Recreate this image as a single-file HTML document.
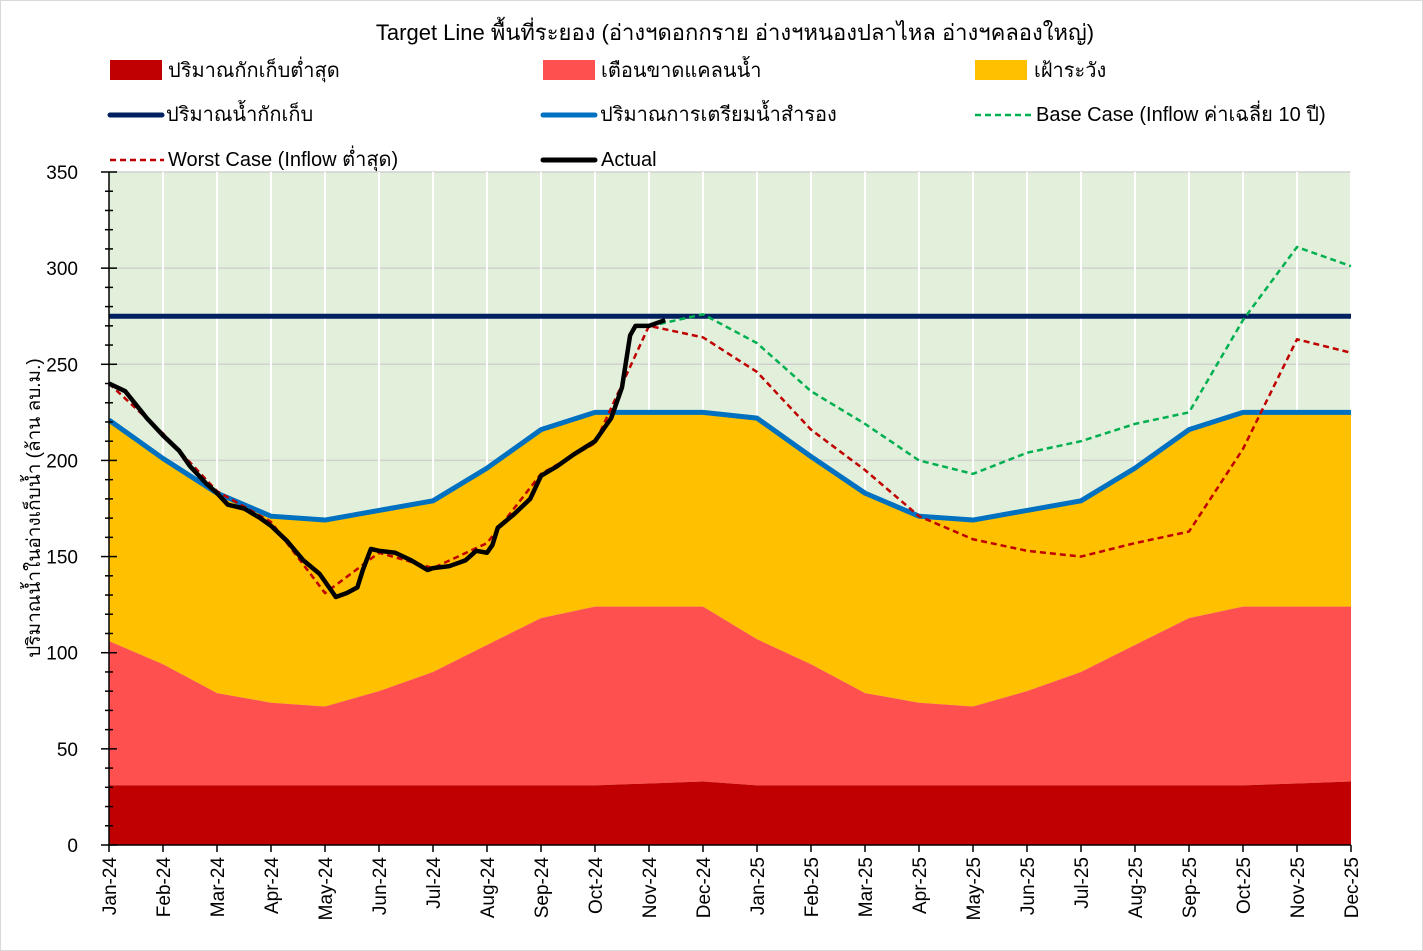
<!DOCTYPE html>
<html><head><meta charset="utf-8"><style>
body{margin:0;background:#fff}
svg{display:block;font-family:"Liberation Sans","Noto Sans CJK SC",sans-serif}
</style></head><body>
<svg id="c" width="1423" height="951" viewBox="0 0 1423 951">
<rect x="0.5" y="0.5" width="1422" height="950" fill="#fff" stroke="#d9d9d9"/>
<text x="735" y="40" font-size="22" text-anchor="middle" fill="#000">Target Line พื้นที่ระยอง (อ่างฯดอกกราย อ่างฯหนองปลาไหล อ่างฯคลองใหญ่)</text>
<g id="legend" font-size="20">
<g><rect x="110" y="60" width="52" height="20" fill="#c00000"/><text x="168" y="77">ปริมาณกักเก็บต่ำสุด</text></g>
<g><rect x="543" y="60" width="52" height="20" fill="#ff5050"/><text x="601" y="77">เตือนขาดแคลนน้ำ</text></g>
<g><rect x="975" y="60" width="52" height="20" fill="#ffc000"/><text x="1034" y="77">เฝ้าระวัง</text></g>
<g><line x1="110" y1="115" x2="162" y2="115" stroke="#002060" stroke-width="5" stroke-linecap="round"/><text x="166" y="121">ปริมาณน้ำกักเก็บ</text></g>
<g><line x1="543" y1="115" x2="595" y2="115" stroke="#0070c0" stroke-width="5" stroke-linecap="round"/><text x="600" y="121">ปริมาณการเตรียมน้ำสำรอง</text></g>
<g><line x1="975" y1="115" x2="1031" y2="115" stroke="#00b050" stroke-width="2.5" stroke-dasharray="6,4"/><text x="1036" y="121">Base Case (Inflow ค่าเฉลี่ย 10 ปี)</text></g>
<g><line x1="110" y1="160" x2="164" y2="160" stroke="#c00000" stroke-width="2.5" stroke-dasharray="6,4"/><text x="168" y="166">Worst Case (Inflow ต่ำสุด)</text></g>
<g><line x1="543" y1="160" x2="595" y2="160" stroke="#000" stroke-width="5" stroke-linecap="round"/><text x="601" y="166">Actual</text></g>
</g>
<g id="plot"></g>
</svg>
<script>
const months=["Jan-24","Feb-24","Mar-24","Apr-24","May-24","Jun-24","Jul-24","Aug-24","Sep-24","Oct-24","Nov-24","Dec-24","Jan-25","Feb-25","Mar-25","Apr-25","May-25","Jun-25","Jul-25","Aug-25","Sep-25","Oct-25","Nov-25","Dec-25"];
const yTicks=[0,50,100,150,200,250,300,350];
const minStorage=[31,31,31,31,31,31,31,31,31,31,32,33,31,31,31,31,31,31,31,31,31,31,32,33];
const warnTop=[106,94,79,74,72,80,90,104,118,124,124,124,107,94,79,74,72,80,90,104,118,124,124,124];
const reserve=[221,201,183,171,169,174,179,196,216,225,225,225,222,202,183,171,169,174,179,196,216,225,225,225];
const capacity=[275,275,275,275,275,275,275,275,275,275,275,275,275,275,275,275,275,275,275,275,275,275,275,275];
const baseIdx=[10.2,11,12,13,14,15,16,17,18,19,20,21,22,23];
const baseCase=[271,276,261,236,219,200,193,204,210,219,225,273,311,301];
const worstCase=[240,214,184,168,131,152,144,157,193,209,270,264,246,216,195,171,159,153,150,157,163,206,263,256];
const actualIdx=[0,0.3,0.5,0.7,1,1.3,1.5,1.8,2,2.2,2.5,2.8,3,3.3,3.6,3.9,4.1,4.2,4.4,4.6,4.7,4.85,5,5.3,5.6,5.9,6,6.3,6.6,6.8,7,7.1,7.2,7.5,7.8,8,8.3,8.6,9,9.3,9.5,9.65,9.75,10,10.3];
const actual=[240,236,229,222,213,205,197,188,183,177,175,170,166,158,148,141,133,129,131,134,143,154,153,152,148,143,144,145,148,153,152,156,165,172,180,192,197,203,210,222,238,265,270,270,273];
const NS="http://www.w3.org/2000/svg";
const X0=109,X1=1351,Y0=845,Y1=172;
const x=i=>X0+i*(X1-X0)/(months.length-1);
const y=v=>Y0-v*(Y0-Y1)/350;
const g=document.getElementById('plot');
function mk(t,a,p){const e=document.createElementNS(NS,t);for(const k in a)e.setAttribute(k,a[k]);(p||g).appendChild(e);return e;}
let e=mk('rect',{x:X0,y:Y1,width:X1-X0,height:Y0-Y1,fill:'#e2efda'});


yTicks.forEach(v=>{if(v>0){const l=mk('line',{x1:X0,x2:X1,y1:y(v),y2:y(v),stroke:'#d0d0d0','stroke-width':1.5});

}});
months.forEach((m,i)=>{if(i>0){const l=mk('line',{x1:x(i),x2:x(i),y1:Y1,y2:Y0,stroke:'#fff','stroke-width':2});

}});
function area(top,bot,fill,name){let d='M'+top.map((v,i)=>x(i)+','+y(v)).join('L');for(let i=bot.length-1;i>=0;i--)d+='L'+x(i)+','+y(bot[i]);d+='Z';const p=mk('path',{d:d,fill:fill});

}
const zeros=months.map(()=>0);
area(reserve,warnTop,'#ffc000','watch-area');
area(warnTop,minStorage,'#ff5050','shortage-warning-area');
area(minStorage,zeros,'#c00000','min-storage-area');
function line(idx,vals,st,name){const d='M'+vals.map((v,k)=>x(idx[k])+','+y(v)).join('L');const a={d:d,fill:'none','stroke-linejoin':'round'};Object.assign(a,st);const p=mk('path',a);

}
const idxAll=months.map((m,i)=>i);
line(idxAll,capacity,{stroke:'#002060','stroke-width':5},'storage-capacity-line');
line(idxAll,reserve,{stroke:'#0070c0','stroke-width':5},'reserve-line');
line(baseIdx,baseCase,{stroke:'#00b050','stroke-width':2.5,'stroke-dasharray':'6,4'},'base-case-line');
line(idxAll,worstCase,{stroke:'#c00000','stroke-width':2.5,'stroke-dasharray':'6,4'},'worst-case-line');
line(actualIdx,actual,{stroke:'#000','stroke-width':4.5},'actual-line');
e=mk('line',{x1:X0,x2:X0,y1:Y1,y2:Y0,stroke:'#000','stroke-width':1.5});


e=mk('line',{x1:X0,x2:X1,y1:Y0,y2:Y0,stroke:'#000','stroke-width':1.5});


for(let v=0;v<=350;v+=10){const big=v%50===0;const t=mk('line',{x1:big?X0-8:X0-4,x2:big?X0+8:X0+4,y1:y(v),y2:y(v),stroke:'#000','stroke-width':1.5});

}
yTicks.forEach(v=>{const t=mk('text',{x:78,y:y(v)+7,'font-size':19,'text-anchor':'end'});t.textContent=v;

});
months.forEach((m,i)=>{const t=mk('line',{x1:x(i),x2:x(i),y1:Y0,y2:Y0+7,stroke:'#000','stroke-width':1.5});


const l=mk('text',{x:0,y:0,'font-size':19,'text-anchor':'end',transform:`translate(${x(i)+7},${Y0+12}) rotate(-90)`});l.textContent=m;

});
e=mk('text',{x:0,y:0,'font-size':19,'text-anchor':'middle',transform:'translate(40,508) rotate(-90)'});e.textContent='ปริมาณน้ำในอ่างเก็บน้ำ (ล้าน ลบ.ม.)';


</script>
</body></html>
